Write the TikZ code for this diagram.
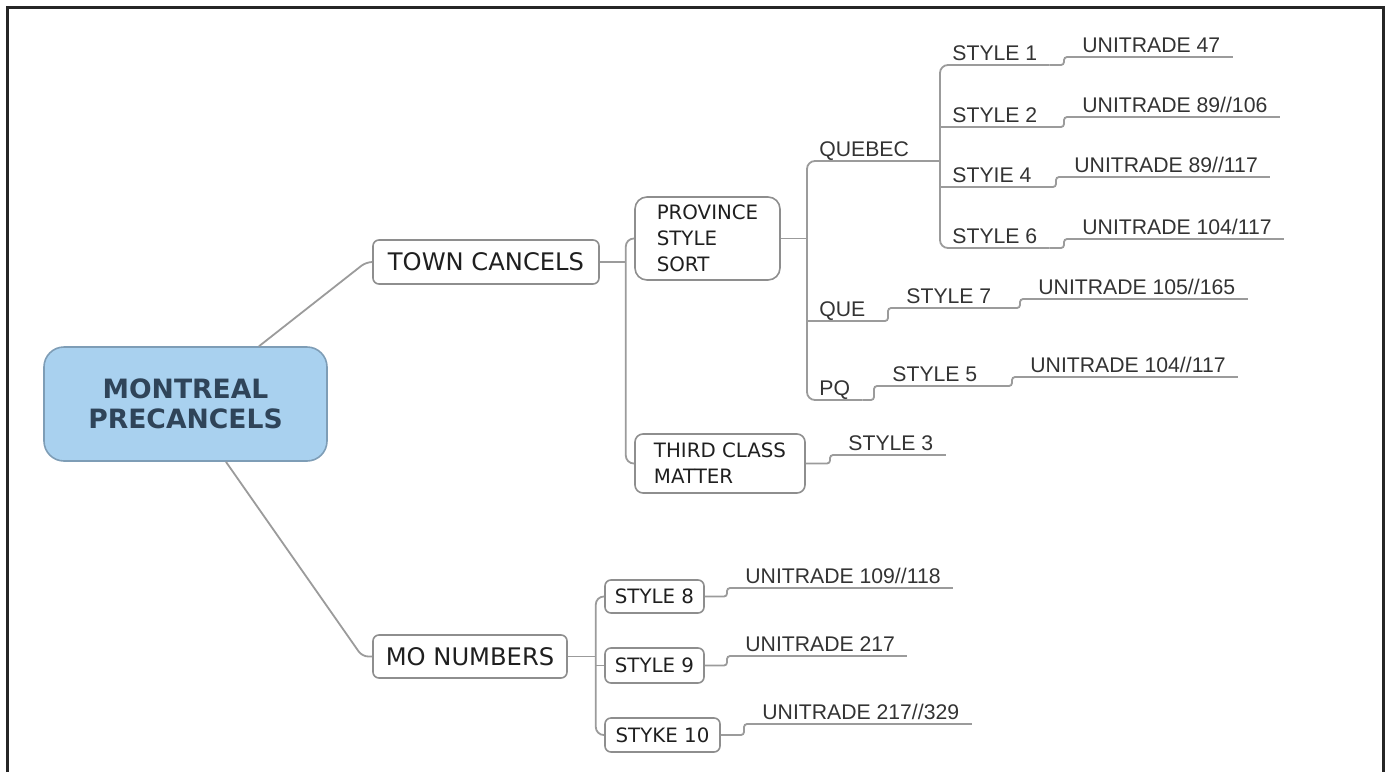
\documentclass[tikz,border=0pt]{standalone}
\usepackage{fontspec}
\newfontfamily\boxfont{DejaVu Sans}
\newfontfamily\lblfont{Liberation Sans}
\definecolor{rootfill}{HTML}{A9D1EF}
\definecolor{rootdraw}{HTML}{7E9DB6}
\definecolor{roottext}{HTML}{2F4459}
\definecolor{linkgray}{HTML}{9B9B9B}
\definecolor{boxgray}{HTML}{8E8E8E}
\begin{document}
\begin{tikzpicture}[
    x=0.5pt,y=-0.5pt,
    link/.style={draw=linkgray,line width=0.9pt,rounded corners=1.5pt},
    root/.style={
      draw=rootdraw,fill=rootfill,line width=0.8pt,rounded corners=10pt,
      minimum width=141.5pt,minimum height=57pt,align=center,text=roottext,
      font=\boxfont\bfseries\fontsize{13.3}{15}\selectfont
    },
    topic/.style={
      draw=boxgray,line width=0.8pt,rounded corners=3pt,inner sep=0pt,
      text=black!88,font=\boxfont\fontsize{12.1}{14}\selectfont
    },
    subtopic/.style={
      draw=boxgray,line width=0.8pt,rounded corners=3pt,inner sep=0pt,
      align=left,text=black!88,font=\boxfont\fontsize{9.9}{13}\selectfont
    },
    leaf/.style={
      anchor=south west,inner xsep=6pt,inner ysep=2pt,text depth=0pt,
      text=black!80,font=\lblfont\fontsize{10.6}{12}\selectfont
    },
  ]
  \useasboundingbox (0,0) rectangle (1387,772);
  \draw[line width=1.5pt,black!85] (7,772) -- (7,7) -- (1383,7) -- (1383,772);

  % boxes
  \node[root] (root) at (185.5,404) {MONTREAL\\PRECANCELS};
  \node[topic,minimum width=113pt,minimum height=22pt] (town) at (486,262) {TOWN CANCELS};
  \node[topic,minimum width=97pt,minimum height=21.5pt] (mo) at (470,656.5) {MO NUMBERS};
  \node[subtopic,rounded corners=6pt,minimum width=72.5pt,minimum height=41.5pt] (prov) at (707.5,238.5) {PROVINCE\\STYLE\\SORT};
  \node[subtopic,rounded corners=4pt,minimum width=85pt,minimum height=29.5pt] (third) at (720,463.5) {THIRD CLASS\\MATTER};
  \node[subtopic,minimum width=49.5pt,minimum height=16.5pt] (st8) at (654.5,596.5) {STYLE 8};
  \node[subtopic,minimum width=49.5pt,minimum height=17.5pt] (st9) at (654.5,665.5) {STYLE 9};
  \node[subtopic,minimum width=57.5pt,minimum height=17pt] (st10) at (662.5,735) {STYKE 10};

  % underlined labels
  \node[leaf] (queb) at (807,161) {QUEBEC};
  \node[leaf] (que) at (807,321) {QUE};
  \node[leaf] (pq) at (807,400) {PQ};
  \node[leaf] (s1) at (940,65) {STYLE 1};
  \node[leaf] (s2) at (940,127) {STYLE 2};
  \node[leaf] (s4) at (940,187) {STYIE 4};
  \node[leaf] (s6) at (940,248) {STYLE 6};
  \node[leaf] (s7) at (894,308) {STYLE 7};
  \node[leaf] (s5) at (880,386) {STYLE 5};
  \node[leaf] (s3) at (836,455) {STYLE 3};
  \node[leaf] (u1) at (1070,57) {UNITRADE 47};
  \node[leaf] (u2) at (1070,117) {UNITRADE 89//106};
  \node[leaf] (u4) at (1062,177) {UNITRADE 89//117};
  \node[leaf] (u6) at (1070,239) {UNITRADE 104/117};
  \node[leaf] (u7) at (1026,299) {UNITRADE 105//165};
  \node[leaf] (u5) at (1018,377) {UNITRADE 104//117};
  \node[leaf] (u8) at (733,588) {UNITRADE 109//118};
  \node[leaf] (u9) at (733,656) {UNITRADE 217};
  \node[leaf] (u10) at (750,724) {UNITRADE 217//329};

  % root to topics
  \draw[link,rounded corners=3pt] (root) -- ([xshift=-3pt]town.west) -- (town.west);
  \draw[link,rounded corners=3pt] (root) -- ([xshift=-5pt]mo.west) -- (mo.west);

  % town cancels
  \draw[link] (town.east) -- ++(26,0) coordinate (tsp);
  \draw[link,rounded corners=4pt] (prov.west) -| (tsp) |- (third.west);
  \draw[link] (prov.east) -- (prov.east -| queb.south west);
  \draw[link,rounded corners=4pt] (queb.south east) -- (queb.south west) -- (pq.south west) -- (pq.south east);
  \draw[link] (queb.south east) -- (queb.south east -| s1.south west);
  \draw[link,rounded corners=4pt] (s1.south east) -- (s1.south west) -- (s6.south west) -- (s6.south east);
  \foreach \n in {que,s2,s4,s7,s5,s3,u1,u2,u4,u6,u7,u5,u8,u9,u10}
    \draw[link] (\n.south west) -- (\n.south east);
  \foreach \a/\b in {s1/u1,s2/u2,s4/u4,s6/u6,que/s7,s7/u7,pq/s5,s5/u5}
    \draw[link] (\a.south east) -| ([xshift=-3pt]\b.south west) -- (\b.south west);

  % mo numbers
  \draw[link] (mo.east) -- ++(28,0) coordinate (msp);
  \draw[link,rounded corners=4pt] (st8.west) -| (msp) |- (st10.west);
  \draw[link] (st9.west) -- (st9.west -| msp);
  \foreach \a/\b in {third/s3,st8/u8,st9/u9,st10/u10}
    \draw[link] (\a.east) -| ([xshift=-3pt]\b.south west) -- (\b.south west);
\end{tikzpicture}
\end{document}
